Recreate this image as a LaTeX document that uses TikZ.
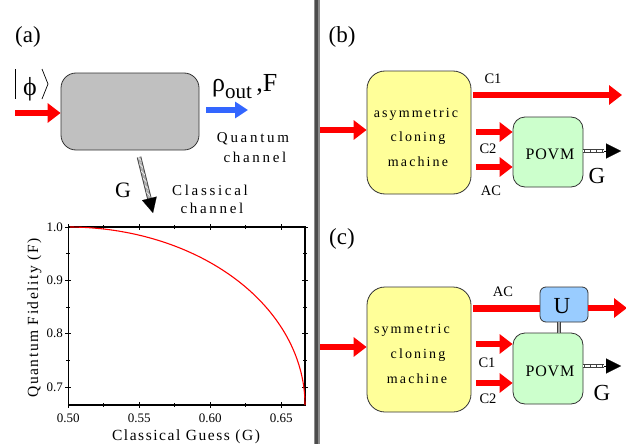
\documentclass[tikz,border=0pt]{standalone}
\usepackage{fontspec}
\setmainfont{Liberation Serif}
\usetikzlibrary{arrows.meta}
\definecolor{redA}{HTML}{FF0000}
\definecolor{blueA}{HTML}{3366FF}
\definecolor{yelA}{HTML}{FFFF99}
\definecolor{grnA}{HTML}{CCFFCC}
\definecolor{bluU}{HTML}{99CCFF}
\definecolor{greyA}{HTML}{C0C0C0}
\newcommand\lsp[1]{\addfontfeatures{LetterSpace=#1}}
\tikzset{
  txt/.style={inner sep=0pt, anchor=base},
  lab/.style={inner sep=0pt, anchor=base, font=\fontsize{14.5}{14.5}\selectfont},
  qarrow/.style={line width=6pt, redA, -{Triangle[length=13pt,width=19pt]}},
  barrow/.style={line width=6pt, blueA, -{Triangle[length=13pt,width=16pt]}},
  roundbox/.style={draw=black!80, line width=0.8pt, rounded corners=#1},
  hatch/.style={line width=4.5pt, black!75},
  hatchin/.style={line width=2.8pt, white, dash pattern=on 0.6pt off 0.6pt},
  ctip/.style={-{Triangle[length=15pt,width=15pt]}, black, line width=0.1pt},
  axisline/.style={line width=1.1pt, black},
}
\begin{document}
\begin{tikzpicture}[x=1pt,y=-1pt]
\useasboundingbox (0,0) rectangle (626,444);
% divider
\fill[black!45] (313.5,0) rectangle (319.5,444);
\fill[black!70] (315,0) rectangle (318,444);
% ---------- (a) ----------
\node[txt] (la) at (28,43) {\fontsize{23}{23}\selectfont (a)};
\draw[line width=0.7pt] (15,69) -- (15,99);
\draw[line width=0.7pt] (42,69) -- (48,84) -- (42,99);
\node[txt] (phi) at (30,95) {\fontsize{26}{26}\selectfont ϕ};
\node[roundbox=15pt, fill=greyA, minimum width=138pt, minimum height=77pt, inner sep=0pt] (box) at (130,111.5) {};
\coordinate (inA) at (15,113);
\draw[qarrow] (inA) -- (box.west |- inA);
\coordinate (blS) at (206,110);
\coordinate (blE) at (248,110);
\draw[barrow] (blS) -- (blE);
\node[txt, anchor=base west] (rho) at (212,92) {\fontsize{26}{26}\selectfont ρ\raisebox{-6pt}{\fontsize{21}{21}\selectfont out}\,,F};
\node[txt] (q1) at (253,142) {\fontsize{15}{15}\selectfont\lsp{18}Quantum};
\node[txt] (q2) at (255,162) {\fontsize{15}{15}\selectfont\lsp{18}channel};
\coordinate (cS) at (139,157);
\coordinate (cM) at (149.5,199);
\coordinate (cE) at (153,213);
\draw[hatch] (cS) -- (cM);
\draw[hatchin] (cS) -- (cM);
\draw[ctip] (cM) -- (cE);
\node[txt] (Ga) at (123,197) {\fontsize{22}{22}\selectfont G};
\node[txt] (cl1) at (210,195) {\fontsize{15}{15}\selectfont\lsp{18}Classical};
\node[txt] (cl2) at (212,213) {\fontsize{15}{15}\selectfont\lsp{18}channel};
% plot
\draw[axisline] (68.3,227) rectangle (305,405);
\foreach \x in {68.3,139.3,210.3,281.3}{
  \draw[line width=0.8pt] (\x,402) -- (\x,408);
  \draw[line width=0.8pt] (\x,224) -- (\x,230);}
\foreach \x in {103.8,174.8,245.8}{
  \draw[line width=0.8pt] (\x,403) -- (\x,407);
  \draw[line width=0.8pt] (\x,225) -- (\x,229);}
\foreach \y in {227,280.4,333.8,387.2}{
  \draw[line width=0.8pt] (65.3,\y) -- (71.3,\y);
  \draw[line width=0.8pt] (302,\y) -- (308,\y);}
\foreach \y in {253.7,307.1,360.5}{
  \draw[line width=0.8pt] (66.3,\y) -- (70.3,\y);
  \draw[line width=0.8pt] (303,\y) -- (307,\y);}
\begin{scope}
\clip (68.3,220) rectangle (306,406);
\draw[redA, line width=1.1pt] plot[domain=0:0.40824, samples=120, variable=\u] ({68.3 + (1/6 - \u*\u)*1420.2}, {227 + (2/3 - (sqrt(1/3-\u*\u)+\u)^2)*534});
\end{scope}
\foreach \y/\t in {227/1.0,280.4/0.9,333.8/0.8,387.2/0.7}{
  \node[txt, anchor=base east] at (63,\y+4) {\fontsize{13}{13}\selectfont \t};}
\foreach \x/\t in {68.3/0.50,139.3/0.55,210.3/0.60,281.3/0.65}{
  \node[txt] at (\x,422) {\fontsize{13}{13}\selectfont \t};}
\node[txt] (xl) at (186,440) {\fontsize{15.5}{15.5}\selectfont\lsp{10}Classical Guess (G)};
\node[txt, rotate=90] (yl) at (38,318) {\fontsize{15.5}{15.5}\selectfont\lsp{10}Quantum Fidelity (F)};
% ---------- (b) ----------
\node[txt] (lb) at (342,43) {\fontsize{23}{23}\selectfont (b)};
\node[roundbox=18pt, fill=yelA, minimum width=104pt, minimum height=123pt, inner sep=0pt] (ybb) at (419,132.5) {};
\node[txt] at (416,117) {\fontsize{14}{14}\selectfont\lsp{15}asymmetric};
\node[txt] at (418,141) {\fontsize{14}{14}\selectfont\lsp{15}cloning};
\node[txt] at (418,166) {\fontsize{14}{14}\selectfont\lsp{15}machine};
\node[roundbox=12pt, fill=grnA, minimum width=70pt, minimum height=70pt, inner sep=0pt] (pb) at (548,152) {};
\node[txt] at (550,159) {\fontsize{16}{16}\selectfont\lsp{5}POVM};
\coordinate (inB) at (320,130);
\draw[qarrow] (inB) -- (ybb.west |- inB);
\coordinate (c1S) at (473,95);
\coordinate (c1E) at (622,95);
\draw[qarrow] (c1S) -- (c1E);
\coordinate (c2S) at (476,132);
\draw[qarrow] (c2S) -- (pb.west |- c2S);
\coordinate (acS) at (476,167);
\draw[qarrow] (acS) -- (pb.west |- acS);
\node[lab] at (493,83) {C1};
\node[lab] at (488,153) {C2};
\node[lab] at (491,195) {AC};
\coordinate (gbM) at (604,151);
\coordinate (gbE) at (621,151);
\draw[hatch] (pb.east |- gbM) -- (gbM);
\draw[hatchin] (pb.east |- gbM) -- (gbM);
\draw[ctip] (gbM) -- (gbE);
\node[txt] (Gb) at (597,183) {\fontsize{23}{23}\selectfont G};
% ---------- (c) ----------
\node[txt] (lc) at (342,244) {\fontsize{23}{23}\selectfont (c)};
\node[roundbox=18pt, fill=yelA, minimum width=104pt, minimum height=125pt, inner sep=0pt] (ybc) at (419,349.5) {};
\node[txt] at (412,333) {\fontsize{14}{14}\selectfont\lsp{15}symmetric};
\node[txt] at (418,358) {\fontsize{14}{14}\selectfont\lsp{15}cloning};
\node[txt] at (417,383) {\fontsize{14}{14}\selectfont\lsp{15}machine};
\node[roundbox=12pt, fill=grnA, minimum width=70pt, minimum height=71pt, inner sep=0pt] (pc) at (548,368.5) {};
\node[txt] at (550,376) {\fontsize{16}{16}\selectfont\lsp{5}POVM};
\node[roundbox=6pt, fill=bluU, minimum width=48pt, minimum height=35pt, inner sep=0pt] (U) at (564,304.5) {};
\node[txt] at (562,313) {\fontsize{23}{23}\selectfont U};
\coordinate (inC) at (320,347);
\draw[qarrow] (inC) -- (ybc.west |- inC);
\coordinate (acC) at (473,308);
\draw[line width=7pt, redA] (acC) -- (U.west |- acC);
\coordinate (outC) at (627,308);
\draw[qarrow] (U.east |- outC) -- (outC);
\coordinate (c1C) at (476,344);
\draw[qarrow] (c1C) -- (pc.west |- c1C);
\coordinate (c2C) at (476,383);
\draw[qarrow] (c2C) -- (pc.west |- c2C);
\node[lab] at (503,296) {AC};
\node[lab] at (487,367) {C1};
\node[lab] at (488,403) {C2};
\draw[line width=4pt, black!75] (U.south -| 559,0) -- (pc.north -| 559,0);
\draw[line width=1.5pt, black!35] (U.south -| 559,0) -- (pc.north -| 559,0);
\coordinate (gcM) at (604,366);
\coordinate (gcE) at (621,366);
\draw[hatch] (pc.east |- gcM) -- (gcM);
\draw[hatchin] (pc.east |- gcM) -- (gcM);
\draw[ctip] (gcM) -- (gcE);
\node[txt] (Gc) at (602,400) {\fontsize{23}{23}\selectfont G};
\end{tikzpicture}
\end{document}
